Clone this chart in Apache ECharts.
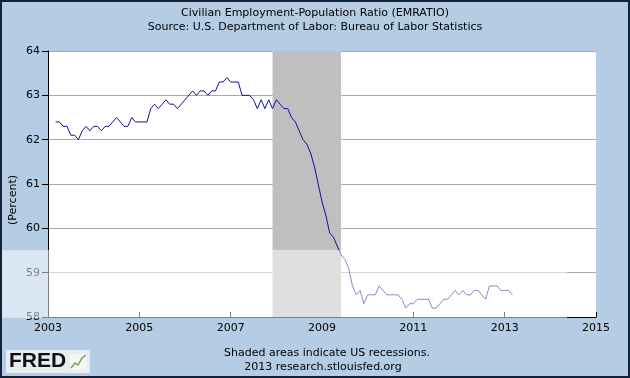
<!DOCTYPE html>
<html>
<head>
<meta charset="utf-8">
<script src="https://cdn.jsdelivr.net/npm/echarts/dist/echarts.min.js"></script>
<style>
html,body{margin:0;padding:0;background:#b4cce4;}
#chart{width:630px;height:378px;}
</style>
</head>
<body>
<div id="chart"></div>
<script>
// ---- data ----
const titleText = 'Civilian Employment-Population Ratio (EMRATIO)';
const sourceText = 'Source: U.S. Department of Labor: Bureau of Labor Statistics';
const footerText1 = 'Shaded areas indicate US recessions.';
const footerText2 = '2013 research.stlouisfed.org';
const yAxisName = '(Percent)';

const startYear = 2003;
const startMonth = 3; // March 2003, monthly observations
const ratio = [
  62.4, 62.4, 62.3, 62.3, 62.1, 62.1, 62.0, 62.2, 62.3, 62.2,
  62.3, 62.3, 62.2, 62.3, 62.3, 62.4, 62.5, 62.4, 62.3, 62.3, 62.5, 62.4,
  62.4, 62.4, 62.4, 62.7, 62.8, 62.7, 62.8, 62.9, 62.8, 62.8, 62.7, 62.8,
  62.9, 63.0, 63.1, 63.0, 63.1, 63.1, 63.0, 63.1, 63.1, 63.3, 63.3, 63.4,
  63.3, 63.3, 63.3, 63.0, 63.0, 63.0, 62.9, 62.7, 62.9, 62.7, 62.9, 62.7,
  62.9, 62.8, 62.7, 62.7, 62.5, 62.4, 62.2, 62.0, 61.9, 61.7, 61.4, 61.0,
  60.6, 60.3, 59.9, 59.8, 59.6, 59.4, 59.3, 59.1, 58.7, 58.5, 58.6, 58.3,
  58.5, 58.5, 58.5, 58.7, 58.6, 58.5, 58.5, 58.5, 58.5, 58.4, 58.2, 58.3,
  58.3, 58.4, 58.4, 58.4, 58.4, 58.2, 58.2, 58.3, 58.4, 58.4, 58.5, 58.6,
  58.5, 58.6, 58.5, 58.5, 58.6, 58.6, 58.5, 58.4, 58.7, 58.7, 58.7, 58.6,
  58.6, 58.6, 58.5
];
// recession: [start year, start month, end year, end month]
const recessions = [[2007, 12, 2009, 6]];
const xTicks = [2003, 2005, 2007, 2009, 2011, 2013, 2015];
const yTicks = [58, 59, 60, 61, 62, 63, 64];

// ---- build ----
function ym(y, m) { return y + (m - 1) / 12; }
const seriesData = ratio.map(function (v, i) {
  const idx = startMonth - 1 + i;
  return [ym(startYear + Math.floor(idx / 12), (idx % 12) + 1), v];
});

const chart = echarts.init(document.getElementById('chart'), null, {renderer: 'canvas'});
const font = 'DejaVu Sans';
chart.setOption({
  backgroundColor: '#b4cce4',
  animation: false,
  textStyle: {fontFamily: font},
  title: [
    {text: titleText, left: 'center', top: 3,
     textStyle: {fontFamily: font, fontSize: 11, fontWeight: 'normal', color: '#000'}},
    {text: sourceText, left: 'center', top: 17,
     textStyle: {fontFamily: font, fontSize: 11, fontWeight: 'normal', color: '#000'}},
    {text: footerText1, left: 322, top: 343, textAlign: 'center',
     textStyle: {fontFamily: font, fontSize: 11, fontWeight: 'normal', color: '#000'}},
    {text: footerText2, left: 318, top: 357, textAlign: 'center',
     textStyle: {fontFamily: font, fontSize: 11, fontWeight: 'normal', color: '#000'}}
  ],
  grid: {left: 48, right: 34, top: 51, bottom: 61, show: true, backgroundColor: '#ffffff',
         borderWidth: 0, containLabel: false, outerBoundsMode: 'none'},
  xAxis: {
    type: 'value', min: xTicks[0], max: xTicks[xTicks.length - 1], interval: 2,
    axisLine: {show: true, lineStyle: {color: '#000', width: 1}},
    axisTick: {show: true, inside: true, length: 5, lineStyle: {color: '#000'}},
    axisLabel: {color: '#000', fontSize: 11, fontFamily: font, margin: 6,
      formatter: function (v) { return String(v); }},
    splitLine: {show: false}
  },
  yAxis: {
    type: 'value', min: yTicks[0], max: yTicks[yTicks.length - 1], interval: 1,
    axisLine: {show: true, lineStyle: {color: '#000', width: 1}},
    axisTick: {show: true, inside: false, length: 6, lineStyle: {color: '#000'}},
    axisLabel: {color: '#000', fontSize: 11, fontFamily: font, margin: 8},
    splitLine: {show: true, lineStyle: {color: '#a8a8a8', width: 1}}
  },
  series: [{
    type: 'line',
    data: seriesData,
    showSymbol: false,
    lineStyle: {color: '#10109a', width: 1},
    itemStyle: {color: '#10109a'},
    z: 3,
    markArea: {
      silent: true,
      itemStyle: {color: '#bfbfbf', opacity: 1},
      data: recessions.map(function (r) {
        return [{xAxis: ym(r[0], r[1])}, {xAxis: ym(r[2], r[3])}];
      })
    }
  }],
  graphic: [
    {type: 'text', x: 13, y: 200, rotation: Math.PI / 2, z: 60,
     style: {text: yAxisName, font: '11px "DejaVu Sans"', fill: '#000',
             textAlign: 'center', textVerticalAlign: 'middle'}},
    {type: 'rect', z: 100, silent: true,
     shape: {x: 0, y: 250, width: 567, height: 68},
     style: {fill: 'rgba(255,255,255,0.5)'}},
    {type: 'group', left: 6, top: 350, z: 50, children: [
      {type: 'rect', shape: {x: 0, y: 0, width: 84, height: 23}, style: {fill: '#e6ecf2'}},
      {type: 'text', x: 3, y: 1, style: {text: 'FRED', font: 'bold 21px "Liberation Sans", Arial', fill: '#111'}},
      {type: 'rect', shape: {x: 64, y: 4, width: 17, height: 16}, style: {fill: '#f4f6f2'}},
      {type: 'polyline', shape: {points: [[65, 18], [69, 13], [72, 15], [76, 8], [80, 5]]},
       style: {stroke: '#7aa05a', lineWidth: 1.5, fill: null}}
    ]},
    {type: 'rect', z: 101, silent: true,
     shape: {x: 1, y: 1, width: 628, height: 376},
     style: {fill: null, stroke: '#14213a', lineWidth: 2}}
  ]
});
</script>
</body>
</html>
